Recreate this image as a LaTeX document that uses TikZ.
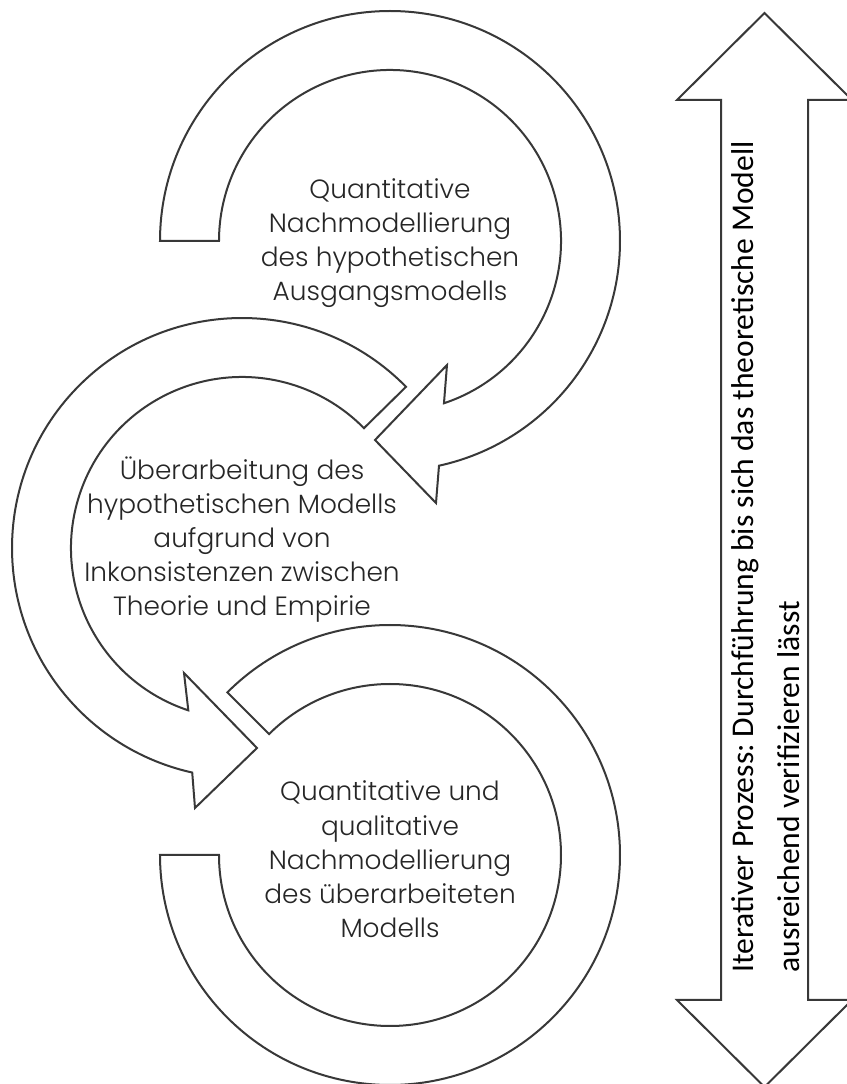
\documentclass[tikz,border=0pt]{standalone}
\usepackage{fontspec}
\setmainfont{Carlito}
\newfontfamily\ringfont{Poppins Light}
\usepackage{tikz}
\usetikzlibrary{calc,positioning}
\frenchspacing

\begin{document}
\begin{tikzpicture}[
    x=0.5pt, y=0.5pt,
    ring/.style={draw=black!78, line width=1pt, fill=white, line join=miter},
    ringtext/.style={font=\ringfont\fontsize{13.2}{17.1}\selectfont, align=center, text=black!85, inner sep=0pt},
    sidetext/.style={font=\fontsize{15.8}{23}\selectfont, align=left, rotate=90, inner sep=0pt, anchor=north west}
]
    \useasboundingbox (0,0) rectangle (847,1084);

    % --- ring centres ---
    \coordinate (top_c) at (390,843);
    \coordinate (mid_c) at (242,536);
    \coordinate (bot_c) at (390,229);

    % --- Top ring: tail on the left, head pointing down-left ---
    \draw[ring] ($(top_c)+(180:230)$) arc[start angle=180, end angle=-77.7, radius=230]
        -- (436,581) -- (375,644) -- (447,719)
        -- ($(top_c)+(-71.6:171)$) arc[start angle=-71.6, end angle=180, radius=171] -- cycle;

    % --- Middle ring: tail upper right, head pointing down-right ---
    \draw[ring] ($(mid_c)+(44.5:230)$) arc[start angle=44.5, end angle=257.5, radius=230]
        -- (195,276) -- (257,336) -- (184,411)
        -- ($(mid_c)+(251.7:171)$) arc[start angle=251.7, end angle=44.5, radius=171] -- cycle;

    % --- Bottom ring: open band, no head ---
    \draw[ring] ($(bot_c)+(135:230)$) arc[start angle=135, end angle=-180, radius=230]
        -- ($(bot_c)+(180:171)$) arc[start angle=-180, end angle=135, radius=171] -- cycle;

    % --- Double arrow on the right ---
    \draw[ring] (764.5,1071) -- (852,984) -- (808,984) -- (808,84) -- (852,84)
        -- (764.5,-3) -- (677,84) -- (721,84) -- (721,984) -- (677,984) -- cycle;

    % Texts
    \node[ringtext] (top_text) at (390,841) {Quantitative\\Nachmodellierung\\des hypothetischen\\Ausgangsmodells};
    \node[ringtext] (mid_text) at (242,544.5) {Überarbeitung des\\hypothetischen Modells\\aufgrund von\\Inkonsistenzen zwischen\\Theorie und Empirie};
    \node[ringtext] (bot_text) at (390,224.5) {Quantitative und\\qualitative\\Nachmodellierung\\des überarbeiteten\\Modells};
    \node[sidetext] (side_text) at (731,111) {Iterativer Prozess: Durchführung bis sich das theoretische Modell\\ausreichend verifizieren lässt};

\end{tikzpicture}
\end{document}
